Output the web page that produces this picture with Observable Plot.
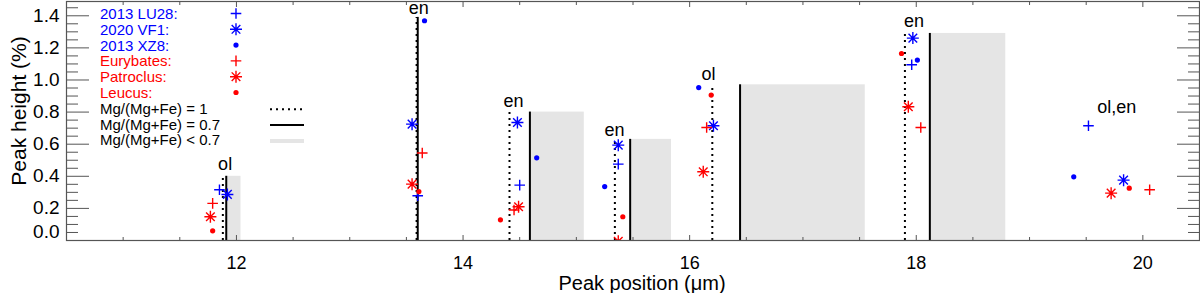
<!DOCTYPE html>
<html><head><meta charset="utf-8">
<script src="https://cdn.jsdelivr.net/npm/d3@7"></script>
<script src="https://cdn.jsdelivr.net/npm/@observablehq/plot@0.6"></script>
<style>
body{margin:0;background:#fff;}
#wrap{position:relative;width:1200px;height:293px;font-family:"Liberation Sans",Arial,sans-serif;}
#wrap svg{position:absolute;left:0;top:0;}
</style></head><body><div id="wrap"></div>
<script>
// ---- data (peak position in µm, peak height in %) ----
const lu28X = [11.85, 13.60, 14.50, 15.37, 17.96, 19.52];
const lu28Y = [0.316, 0.279, 0.345, 0.476, 1.095, 0.715];
const vf1X  = [11.92, 13.55, 14.48, 15.37, 16.21, 17.97, 19.83];
const vf1Y  = [0.287, 0.725, 0.735, 0.594, 0.715, 1.261, 0.376];
const xz8X  = [13.66, 14.65, 15.25, 16.08, 18.01, 19.39];
const xz8Y  = [1.369, 0.515, 0.336, 0.953, 1.124, 0.397];
const eurX  = [11.79, 13.64, 14.45, 16.15, 18.04, 20.06];
const eurY  = [0.231, 0.545, 0.190, 0.704, 0.704, 0.316];
const patX  = [11.77, 13.55, 14.49, 15.37, 16.12, 17.93, 19.72];
const patY  = [0.148, 0.351, 0.210, -0.005, 0.428, 0.833, 0.295];
const leuX  = [11.79, 13.61, 14.33, 15.41, 16.19, 17.87, 19.88];
const leuY  = [0.060, 0.305, 0.129, 0.148, 0.906, 1.165, 0.326];

// laboratory reference peaks
const mg1X   = [11.88, 13.59, 14.41, 15.34, 16.20, 17.90];   // Mg/(Mg+Fe)=1 (dotted)
const mg07X  = [11.91, 13.60, 14.59, 15.475, 16.445, 18.12]; // Mg/(Mg+Fe)=0.7 (solid)
const peakTop = [0.40, 1.39, 0.80, 0.63, 0.97, 1.29];
const bandX1 = [11.91, 14.59, 15.475, 16.445, 18.12];        // Mg/(Mg+Fe)<0.7 (grey)
const bandX2 = [12.04, 15.07, 15.84, 17.55, 18.79];
const bandTop = [0.40, 0.80, 0.63, 0.97, 1.29];

const mineralText = ["ol", "en", "en", "en", "ol", "en", "ol,en"];
const mineralX = [11.90, 13.61, 14.445, 15.336, 16.166, 17.98, 19.77];
const mineralY = [0.477, 1.448, 0.870, 0.688, 1.037, 1.365, 0.829];

const xTicksMajor = [12, 14, 16, 18, 20];
const yTicksMajor = [0, 0.2, 0.4, 0.6, 0.8, 1.0, 1.2, 1.4];

const legendNames = ["2013 LU28:", "2020 VF1:", "2013 XZ8:", "Eurybates:", "Patroclus:", "Leucus:"];
const legendColors = ["blue", "blue", "blue", "red", "red", "red"];
const legendSymbols = ["plus", "star", "dot", "plus", "star", "dot"];
const lineLegend = ["Mg/(Mg+Fe) = 1", "Mg/(Mg+Fe) = 0.7", "Mg/(Mg+Fe) < 0.7"];

// ---- symbols ----
const plusSym = {draw(ctx, size){const r=Math.sqrt(size/Math.PI);ctx.moveTo(-r,0);ctx.lineTo(r,0);ctx.moveTo(0,-r);ctx.lineTo(0,r);}};
const starSym = {draw(ctx, size){const r=Math.sqrt(size/Math.PI),d=r*0.72;ctx.moveTo(-r,0);ctx.lineTo(r,0);ctx.moveTo(0,-r);ctx.lineTo(0,r);ctx.moveTo(-d,-d);ctx.lineTo(d,d);ctx.moveTo(-d,d);ctx.lineTo(d,-d);}};

const zip = (xs, ys) => xs.map((x, i) => ({x, y: ys[i]}));
const series = [
  {pts: zip(lu28X, lu28Y), color: "blue", sym: "plus"},
  {pts: zip(vf1X, vf1Y), color: "blue", sym: "star"},
  {pts: zip(xz8X, xz8Y), color: "blue", sym: "dot"},
  {pts: zip(eurX, eurY), color: "red", sym: "plus"},
  {pts: zip(patX, patY), color: "red", sym: "star"},
  {pts: zip(leuX, leuY), color: "red", sym: "dot"}
];
function symbolMark(s) {
  if (s.sym === "dot") return Plot.dot(s.pts, {x: "x", y: "y", r: 2.6, fill: s.color, stroke: "none", clip: true});
  return Plot.dot(s.pts, {x: "x", y: "y", r: s.sym === "plus" ? 5.3 : 6, symbol: s.sym === "plus" ? plusSym : starSym,
    fill: "none", stroke: s.color, strokeWidth: 1.4, clip: true});
}

const peaks = mg1X.map((x, i) => ({x1: x, x2: mg07X[i], top: peakTop[i]}));
const bands = bandX1.map((x, i) => ({x1: x, x2: bandX2[i], top: bandTop[i]}));
const labels = mineralText.map((t, i) => ({t, x: mineralX[i], y: mineralY[i]}));

const yMinor = d3.range(0, 1.4875, 0.05).filter(v => Math.abs(Math.round(v / 0.2) * 0.2 - v) > 1e-6);
const xMinor = d3.range(10.5, 20.51, 0.5).filter(v => v % 2 !== 0);
const tickStroke = "#555";

const chart = Plot.plot({
  width: 1200, height: 293,
  marginLeft: 66, marginRight: 1, marginTop: 1, marginBottom: 53,
  x: {domain: [10.5, 20.5]},
  y: {domain: [0, 1.489]},
  style: {fontFamily: "'Liberation Sans', Arial, sans-serif", fontSize: "19px", color: "black", background: "white", overflow: "visible"},
  marks: [
    Plot.rect(bands, {x1: "x1", x2: "x2", y1: 0, y2: "top", fill: "#e5e5e5"}),
    Plot.ruleX(peaks, {x: "x1", y1: 0, y2: "top", stroke: "black", strokeWidth: 2, strokeDasharray: "2,4"}),
    Plot.ruleX(peaks, {x: "x2", y1: 0, y2: "top", stroke: "black", strokeWidth: 2}),
    ...series.map(symbolMark),
    Plot.text(labels, {x: "x", y: "y", text: "t", fontSize: 18, fill: "black"}),
    // y ticks (inward, both sides)
    Plot.axisY({anchor: "left", ticks: yTicksMajor, tickSize: -23, text: null, label: null, stroke: tickStroke}),
    Plot.axisY({anchor: "left", ticks: yMinor, tickSize: -12, text: null, label: null, stroke: tickStroke}),
    Plot.axisY({anchor: "right", ticks: yTicksMajor, tickSize: -23, text: null, label: null, stroke: tickStroke}),
    Plot.axisY({anchor: "right", ticks: yMinor, tickSize: -12, text: null, label: null, stroke: tickStroke}),
    Plot.axisY({anchor: "left", ticks: yTicksMajor.filter(v => v > 0), tickSize: 0, tickPadding: 7, tickFormat: d3.format(".1f"), label: null, fontSize: 19}),
    Plot.axisY({anchor: "left", ticks: [0], tickSize: 0, tickPadding: 7, tickFormat: d3.format(".1f"), label: null, fontSize: 19, dy: -9}),
    // x ticks (inward, top and bottom)
    Plot.axisX({anchor: "bottom", ticks: xTicksMajor, tickSize: -5, text: null, label: null, stroke: tickStroke}),
    Plot.axisX({anchor: "bottom", ticks: xMinor, tickSize: -3, text: null, label: null, stroke: tickStroke}),
    Plot.axisX({anchor: "top", ticks: xTicksMajor, tickSize: -5, text: null, label: null, stroke: tickStroke}),
    Plot.axisX({anchor: "top", ticks: xMinor, tickSize: -3, text: null, label: null, stroke: tickStroke}),
    Plot.axisX({anchor: "bottom", ticks: xTicksMajor, tickSize: 0, tickPadding: 16, tickFormat: d => String(d), label: null, fontSize: 18}),
    Plot.text(["Peak position (μm)"], {text: d => d, frameAnchor: "bottom", textAnchor: "middle", lineAnchor: "middle", dy: 43, dx: 9, fontSize: 20}),
    Plot.text(["Peak height (%)"], {text: d => d, frameAnchor: "left", textAnchor: "middle", lineAnchor: "middle", dx: -47, dy: -10, rotate: -90, fontSize: 21}),
    Plot.frame({stroke: tickStroke, strokeWidth: 1.2})
  ]
});
const wrap = document.getElementById("wrap");
wrap.appendChild(chart);

// ---- in-plot legend overlay ----
const lg = d3.select(wrap).append("svg").attr("width", 1200).attr("height", 293)
  .style("font-family", "'Liberation Sans', Arial, sans-serif").style("font-size", "15px");
const rowY = i => 13.5 + i * 15.8;
legendNames.forEach((name, i) => {
  const y = rowY(i), c = legendColors[i];
  lg.append("text").attr("x", 100).attr("y", y).attr("dy", "0.36em").attr("fill", c).text(name);
  const g = lg.append("g").attr("transform", `translate(236,${y})`);
  const s = legendSymbols[i];
  if (s === "dot") g.append("circle").attr("r", 2.6).attr("fill", c);
  else {
    const p = d3.path();
    (s === "plus" ? plusSym : starSym).draw(p, Math.PI * (s === "plus" ? 5.3 : 6) ** 2);
    g.append("path").attr("d", p.toString()).attr("fill", "none").attr("stroke", c).attr("stroke-width", 1.4);
  }
});
lineLegend.forEach((name, i) => {
  const y = rowY(6 + i);
  lg.append("text").attr("x", 100).attr("y", y).attr("dy", "0.36em").attr("fill", "black").text(name);
  const ln = lg.append("line").attr("x1", 270).attr("x2", 304).attr("y1", y + 1).attr("y2", y + 1);
  if (i === 0) ln.attr("stroke", "black").attr("stroke-width", 2).attr("stroke-dasharray", "2,4");
  else if (i === 1) ln.attr("stroke", "black").attr("stroke-width", 2);
  else ln.attr("stroke", "#e5e5e5").attr("stroke-width", 4);
});
</script>
</body></html>
